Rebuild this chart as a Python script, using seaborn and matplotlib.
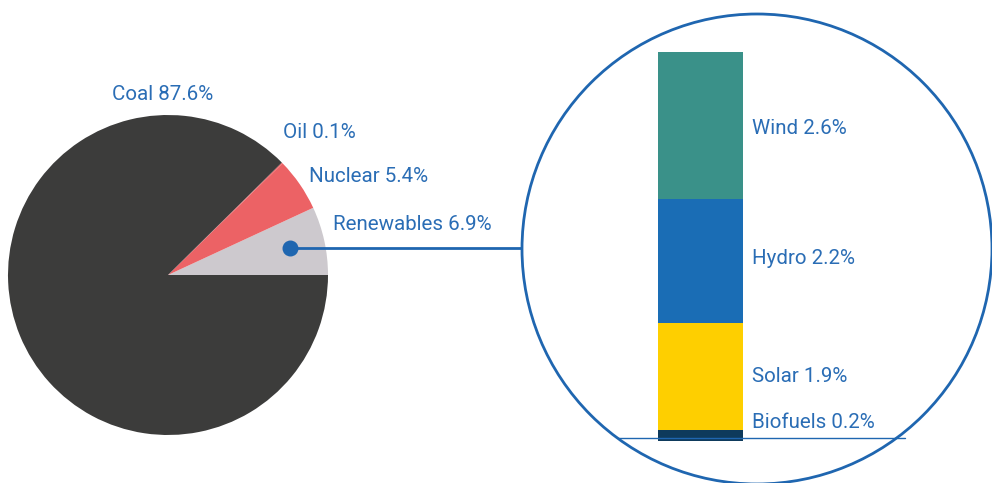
import numpy as np
import pandas as pd
import matplotlib.pyplot as plt
from matplotlib.patches import Circle
from matplotlib.lines import Line2D
import seaborn as sns

# data
pie_labels = ['Renewables', 'Nuclear', 'Oil', 'Coal']
pie_values = [6.9, 5.4, 0.1, 87.6]
pie_colors = ['#cdc9ce', '#ec6265', '#ec6265', '#3c3c3b']

ren_labels = ['Biofuels', 'Solar', 'Hydro', 'Wind']
ren_values = [0.2, 1.9, 2.2, 2.6]
ren_colors = ['#0e3a5c', '#fecf00', '#1a6db5', '#3a9189']

TXT = '#2a6db5'
LINE = '#1f66b0'
FS = 14.8

sns.set_style('white')
plt.rcParams['font.family'] = ['Roboto', 'DejaVu Sans']

W, H = 992, 483
fig = plt.figure(figsize=(W / 100, H / 100), dpi=100)

# main axes in pixel coords (y flipped manually)
ax = fig.add_axes([0, 0, 1, 1])

ax.pie(pie_values, colors=pie_colors, startangle=0, counterclock=True,
       center=(168, H - 275), radius=160, frame=True,
       wedgeprops=dict(linewidth=0))
ax.set_xlim(0, W)
ax.set_ylim(0, H)
ax.set_aspect('equal')
ax.axis('off')

pie_txt_pos = {'Coal': (112, 95), 'Oil': (283, 133), 'Nuclear': (309, 177),
               'Renewables': (333, 225)}
for lab, val in zip(pie_labels, pie_values):
    x, y = pie_txt_pos[lab]
    ax.text(x, H - y, f'{lab} {val}%', color=TXT, fontsize=FS,
            ha='left', va='center')

# connector
ax.plot([290, 522], [H - 248, H - 248], color=LINE, lw=2, solid_capstyle='butt')
ax.scatter([290], [H - 248], s=110, color=LINE, zorder=5)

# zoom circle
ax.add_patch(Circle((757, H - 249), 235, fill=False, edgecolor=LINE, lw=2))

# stacked bar (cumulative overlay)
bax = fig.add_axes([658 / W, (H - 441) / H, 85 / W, 389 / H])
df = pd.DataFrame({'src': ren_labels, 'val': ren_values})
df['cum'] = df['val'].cumsum()
for i in range(len(df) - 1, -1, -1):
    sns.barplot(x=['r'], y=[df['cum'][i]], color=ren_colors[i], width=1,
                saturation=1, linewidth=0, ax=bax)
bax.set_xlim(-0.5, 0.5)
bax.set_ylim(0, df['cum'].iloc[-1])
bax.axis('off')

ren_txt_y = {'Wind': 128, 'Hydro': 259, 'Solar': 376, 'Biofuels': 422}
for lab, val in zip(ren_labels, ren_values):
    ax.text(752, H - ren_txt_y[lab], f'{lab} {val}%', color=TXT, fontsize=FS,
            ha='left', va='center')

# baseline
fig.add_artist(Line2D([618 / W, 905 / W], [(H - 438) / H, (H - 438) / H],
                      color=LINE, lw=1, zorder=3))

fig.savefig('out.png', dpi=100)
